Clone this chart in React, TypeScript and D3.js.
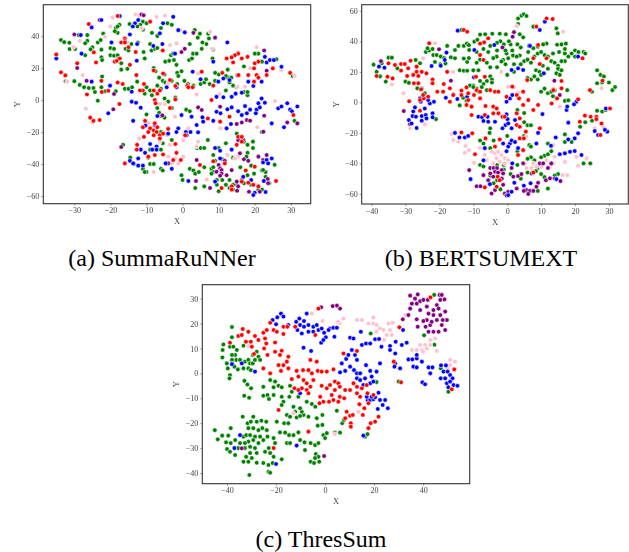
import React, { useRef, useEffect } from 'react';
import * as d3 from 'd3';

type Pt = [number, number];

const WIDTH = 629;
const HEIGHT = 552;

// SummaRuNNer
const summaGreen: Pt[] = [
  [-33.7,37.5],[-32.8,36.2],[-31.4,35.8],[-31.3,31.9],[-29.8,31.9],[-28.8,40.6],[-26.4,40.6],[-26.4,37],[-25,33],[-27,35.5],[-25.5,31.7],[-27,28],[-23.5,36],[-22.7,37.5],[-22,41.5],[-22.5,31.5],[-22.5,26.7],[-22.3,25],[-20,32.5],[-19,32],[-20,28],[-19,27.7],[-18,28],[-17.8,25.8],[-17,23],[-17,19],[-15.3,19.5],[-14.2,35],[-15.8,32],[-15,31],[-12.4,36],[-9,35],[-8.5,42],[-7,40],[-10.8,30],[-10.5,26],[-8.6,31],[-7.7,32],[-7,32.5],[-4.8,24],[-3.7,24.5],[-2.4,25],[-3.2,28],[-2.6,29],[-1.7,22],[-0.3,18],[-1.5,17],[1.8,25],[2.6,26],[2,35],[2.9,29],[3.9,29],[5.3,32],[6.6,35],[5.5,36],[4.2,39],[3.4,43.8],[4.8,41.5],[7.1,41.5],[7.3,38.5],[8.3,26],[8.4,31.5],
  [-32.4,11.7],[-30,11.8],[-28.5,9.5],[-27.3,8],[-26,7.5],[-24.7,7.5],[-24.3,5],[-22.3,14.7],[-22.5,8],[-21.5,5.5],[-23.5,-0.4],[-18.5,5.5],[-16,7],[-15,7],[-14,8],[-12.6,11.5],[-17.5,47],[-14.7,47.5],[-18.5,45],[-18,42],[-11,49],[-10,48],[-11.7,47],[-6,45],[-4.2,48],[-3,47],[-8,20],[-7.5,18],[-5,16],[-6.5,14],[-5.5,12],[-4.8,11],[-7,9],[-10,8],[-9,6],[-10.5,4],[-8.5,3],[-6,7],[-3,12],[-1.5,10],[-1.2,15],[0.5,12],[1.5,10],[3,9],[5,10],[6,11],[6.5,13],[7.5,10],[9,12],[10,16],[9,17],[12.5,19],[13,11],[12.5,14],[13.5,14],[12,6],[14,9],[15,8],[17,5],[18,3],[-5,1],[-4,-1],[-3,-5],[-2,1.5],[-7,-5],[-6.5,-8],[-10,-9],[-6,-10],[-5,-11],[1,-6],[2,-7],
  [-16.5,-28],[-14.5,-36],[-13.5,-40],[-11,-43],[-10,-45],[-9,-40],[-8,-40],[-10.5,-45],[-6,-43],[-5.5,-44],[-9.5,-36],[-9,-31],[-5.5,-27],[-6,-31],[-3,-25],[-6,-20],[-0.3,-47],[2,-43],[3,-44],[3.5,-46],[4.5,-45],[6,-42],[8,-43],[6,-54],[8.5,-42],[9,-38],[8.5,-45],[9.5,-50],[9.5,-53],[10,-57],[11,-50],[12,-53],[13,-55],[14,-56],[12,-27],[14,-36],[15,-21],[17,-26],[18,-28],[19.5,-26],[19.5,-30],[18,-33],[19,-41],[22,-44],[23,-45],[25.5,-40.5],[23,-48],[24,-52],[19,-53],[4,-30],[5,-30],[6,-30],[7,-25],[10,-30],[15,-53],[3.5,-55],[17,-52],[22,-56],[21,-56],[26,25.5],[25,25],[21,29],[20,29],[22,24],[17,21],[12,15],[31,-13],[22,-20],[30.5,15],[18,5],
  [8.5,-34.4],[8,-46],[13,-50],[14,-53],[17.7,-35.4],[19.8,-46],[22.3,-43.7],[-18.8,43],[-18,46],[-12.5,46],[-11,44],[0,-50],[11,-37],[16,-42],[18,-47]
];
const summaRed: Pt[] = [
  [-35,28.5],[-33.7,17.3],[-32.5,15.4],[-29.2,23],[-26.5,3.5],[-25.6,-11],[-24.7,-13],[-23,-12.5],[-24,23.5],[-24.6,29.8],[-26,47.5],[-22.5,12],[-22.4,5],[-20.6,5.8],[-18,11],[-16.6,10],[-17.5,-2.5],[-18.8,24],[-18.2,24.5],[-17.4,26],[-16,38.5],[-16,37],[-17,36],[-14.6,22],[-18,52.5],[-10.7,10],[-11,6],[-11.8,6],[-12.8,15.6],[-9,49],[-5.5,31],[-8,18.5],[-5.4,16.6],[-3.5,12.5],[-2,8.8],[-7,4],[-8,6],[-6.3,6],[-7.7,0],[-7.5,-2],[-3.5,-5],[-2,0.4],[-10.4,-13],[-11,-17],[-7.7,-14.5],[-9,-17.7],[-8,-19],[-7.2,-20],[-6.3,-22],[-5.4,-21],[-8,-22],[-6.3,-24],[-10.7,-23],[-12.6,-28],[-12.7,-31],[-16,-39.6],[-9.5,-35.4],[-7.7,-34.4],[-5.4,-34],[-2,-27.5],[-1.7,-33],[-2.6,-37.5],[-0.5,-37.5],[0.7,-22],[7,-11.5],[10.4,-13.5],[13,-10.4],[8,0],[8.5,9],[11,17],[1.3,9],[1.6,8],[2.8,8],[5.3,17.7],[20.5,15.6],[19.8,19.8],[20,23],[21,24],[18,27],[16.4,26],[15.4,29],[14.5,28],[13.6,26.7],[12.2,26],[14,23.5],[15.5,15.6],[18.2,15.6],[19.8,11.5],[21,14],[23.3,15.6],[25,19.8],[29.8,17],[30.7,-9.4],[25.9,-50.6],[21,-54],[19.6,-53],[20,-41.7],[17.5,-44],[16.4,-26],[15.4,-23],[16.4,-23],[15,-28],[8.5,-38.3],[4.8,-40.6],[10.8,-55],[13.6,-54],[13.6,-56],[16.4,-51],[18.2,-51.7],[11.7,-39.6],
  [-7,-17],[-9.5,-20],[-4,-18],[-16,36],[-15,33],[-13,30]
];
const summaBlue: Pt[] = [
  [-35,26],[-28,29],[-28.2,40.6],[-25.2,45.4],[-25.2,11.5],[-20.1,9],[-20.6,-8.3],[-19.7,36],[-22.5,50],[-17.4,52.5],[-14.6,41],[-12.6,35],[-12.7,24.6],[-14.1,5.2],[-14.1,-1],[-12.9,-1.7],[-13.7,-13],[-11.6,-4.8],[-10.3,-16],[-7.7,-15.5],[-5.4,48],[-2.6,52],[-6.3,41.7],[-5.6,35],[-8.1,33.8],[-2.1,29],[-4.4,8],[-1.7,8],[-0.3,-9.4],[2.5,-10.4],[0.9,-20],[2.2,-20],[1.1,-22],[-1.2,-17.7],[-1.7,-20],[-4,-21],[-7.2,-29],[-9,-27.5],[-8.4,-31],[-7.2,-31],[-12.3,-36.5],[-11.6,-31],[-14.6,-38],[-13.7,-39.6],[-12.3,-41],[-11,-41],[-4.7,-39.6],[-3,-43],[1.6,-50.6],[2.8,17.7],[5,13],[8.5,24],[12.4,36],[13,12.5],[11.3,13.5],[9.9,11.5],[9.4,2],[11.3,1.7],[13.6,2],[14.7,4],[16.4,4.6],[18.2,11.5],[21.9,11.5],[19.6,8.8],[9.4,-7.3],[10.5,-8.3],[12.4,-5.8],[13.6,-4.6],[15.4,-7],[17.3,-3.8],[18.7,-6],[20.5,-6],[20.3,-8.3],[21,-2],[21.9,1],[22.8,-1.7],[21.4,-4.6],[8.5,-13],[12.2,-17.7],[13.4,-15],[16.4,-9.4],[17.8,-8.3],[26.5,-5.2],[27.4,-4],[29,-2],[29.8,-6],[30.3,-7],[31.8,-4],[28.1,-17],[24.7,-14.6],[27.4,20.8],[22.8,27],[23.3,23.5],[24.2,25],[25.3,25],[9,-30],[10.4,-31.7],[10.4,-36.5],[13.6,-31],[9,-51],[16.8,-48],[19,-50],[20,-58],[19.6,-59.4],[23,-57.5],[22.3,-39],[23.3,-37.5],[24.7,-36.5],[23.7,-39.6],[22.5,-50.6],[5.7,-13.5],[5.5,-10.8],[3.9,-15.6],[4.3,-20.2],[-1.2,43.7],[0.6,42.3],
  [-13.2,48],[-12.3,50],[-13.8,46],[-7,-10],[-10.4,-33]
];
const summaPurple: Pt[] = [
  [-29.2,20],[-26.6,12],[-23,50],[-30,41],[-19,3.8],[-19.2,-5.8],[-17,-29.4],[-11.4,53.5],[-10.8,53],[3,42],[9,39],[22.6,31],[23.3,18.3],[15.2,15.4],[4.3,-4.6],[5.3,-6.2],[10.4,-4.2],[-5.6,-9.6],[-0.3,30],[0.6,32],[10,-40.6],[10.4,-42.7],[10.8,-43.8],[9.4,-44.8],[10.8,-46],[10.4,-47.3],[12.2,-47],[13.6,-43.8],[11.7,-38],[15.9,-33.3],[17,-37],[18.2,-38],[21,-35.4],[23.3,-34.4],[22.3,-37.5],[16.4,-50],[15,-51],[15.4,-54],[15.1,-56.7],[18.4,-57.3],[21.4,-57.3],[23.6,-49.4],[23.7,-52],[15.4,-25],[16.8,-25],[3.9,-37.5],[3.7,-50.6],[7.6,-55],[31.8,-14.6],[29,-14],[22.4,-19.8],[22.6,-9.8],[15,-15],[16.4,-14],[17.8,-12.5],[18.7,-12.9],[-4,-39.6]
];
const summaPink: Pt[] = [
  [-35,29],[-30.3,33],[-28.5,37],[-27.7,15.6],[-26.8,-5.4],[-25,-13.8],[-32,11.5],[-21.5,39.5],[-20,46],[-19.4,51.7],[-13,53.5],[-12,52.7],[-11.4,44.8],[-15.3,36],[-7.2,52],[-4.9,52.7],[-3.5,34.4],[-1.7,35.4],[-4,10.4],[-0.7,43.7],[3.9,3.5],[4.3,16.7],[7.6,42.7],[8.2,32],[20.5,33],[15.4,30],[18.7,19.8],[27.4,18.7],[31.1,15.2],[25.6,-0.6],[17.3,8.3],[15.2,8.3],[10.2,3.7],[20.7,-17],[4.3,-26],[3.9,-29],[-3.5,-28],[-8,-45],[-9.5,-14.5],[-8,-16.5],[-12,-24],[-4.4,-22],[-6.3,-26],[0.2,-25],[-2.1,-36.5],[-1.2,-39.6],[-3,-39.6],[0.2,-35.4],[-4,-35.4],[6.7,-49.6],[12.4,-34.4],[15.4,-35.4],[14.5,-36.5],[10.5,-17.7],[1.6,-17.7],[-4.9,-2.5],[-6.3,-2.5],[-2.1,-10.4]
];

// BERTSUMEXT
const bertGreen: Pt[] = [
  [-39.4,24.7],[-38.5,20],[-37,25.6],[-35,29.3],[-34,29.3],[-37.5,17],[-35.8,13.6],[-32.4,22.3],[-30,13.6],[-29,12.8],[-27,27.8],[-25.7,25.6],[-26.5,9.2],[-25.2,9],[-24.3,5.9],[-24,33],[-23,34],[-23.5,35.5],[-21.8,31],[-20.8,31],[-19.6,30],[-18.6,29],[-21.3,26.5],[-19.7,25],[-18.2,25.5],[-22,35],[-17.7,37],[-16.6,29.5],[-15.4,28.9],[-15.4,34.3],[-14.4,37],[-12.8,37],[-11.9,38.5],[-11.3,37.5],[-11.2,34.3],[-12.8,28.7],[-11.8,26.5],[-11.3,29],[-14,21],[-12.8,20.7],[-11.8,20.7],[-10,21],[-8.5,21],[-13.5,47.4],[-9.7,39.8],[-8.8,41],[-8,44.4],[-6.5,44.6],[-4.4,45],[-2.2,45],[-0.4,44.6],[3.7,44.6],[4.7,42.6],[3.2,55],[4.2,56.8],[4.9,57.7],[5.7,56.6],[3.2,51.4],[7.7,49.6],[14.5,48.5],[14.9,45.2],[14.7,37.8],[16,38],[17.3,38.5],[17,35],[15.3,33],[13.5,32],[11.6,38.5],[10.6,38],[9,36.5],[7.7,35.5],[6.4,37],[6.2,33],[3.7,30.7],[1.7,30.7],[-0.2,32],[0.3,28.9],[2.8,30],[-1.2,27.8],[-1.7,26.8],[-3.1,30],[-4.1,29],[-5.6,33],
  [-2,40],[-3,39],[-1,38],[1,38],[0.5,40],[3,38],[4,36],[1.5,34],[-0.5,34],[-3,34],[-5,37],[-7,35],[-9,33],[-8,28],[-9,26],[-6,26],[-5,23],[-3,23],[-0.5,25],[2,25],[4,25],[5,27],[6,28],[7,26],[8,30],[9,32],[10,33],[11,31],[12,30],[13,27],[14,26],[15,24],[10.5,24],[12,22],[8.5,21],[9.5,20],[10,18],[8,17],[9,15],[15,22],[16,21],[14.5,19],[15.5,18],[17,27],[18,30],[19,32],[20,34],[21,33],[22.5,33],[23,32],[20,30],[17,32],[16,27],[11,9],[10,7],[12,6],[13,7],[14,8],[13.5,4],[17,1],[17.7,8],[18,1.3],[7,15],[6,16],[2,20],[0,18],
  [-5,17],[-6,14],[-4.5,15],[-8,14],[-7,12],[-7.5,10],[-6,8],[-4.5,13],[-10,11],[-9,9],[-8.5,7],[-11,11],[-10,10],[-13,3],[-14,-2],[-12,1],[3,-5],[5,-7],[5,-13],[6,-15],[7,-15],[-5,-17],[-5.2,-20],[-4,-25],[-5,-30],[0,-22],[6.5,-28],[12,-27],[13,-29],[17,-21],[18,-24],[19,-26],[17,-26],[11,-35],[10,-36],[12,-34],[13,-32],[8,-38],[7,-36],[6,-37],[9,-43],[10,-47],[8.5,-45],[15,-47],[14,-48],[9,-58],[12,-56.5],[-5,-48],[-3,-51],[-4,-53],[22.5,-40],[24.5,-40],[-1,-44],[-3,-41],[3,-32],[5,-22],[7,-29],[26.5,21],[27.5,18],[28.5,17],[26.5,12.5],[28,13],[30,13],[31.8,10],[31,8],[25,7],[26.5,-5.5],[28,-6],[29,-5],[25,-12],[23,-13],[21.5,-16],[-21,-11],
  [-8,-41],[-7,-42],[-2,-57],[-1,-41],[1,-47],[4,-50],[6,-46],[11,-49],[3,-41],[-8,-25],[-7,-27]
];
const bertRed: Pt[] = [
  [-38.5,17.3],[-35,25.6],[-35.3,16.8],[-33.8,15.7],[-33.1,24.5],[-31.3,25.1],[-30.2,25.1],[-31.3,20.8],[-29.2,22.3],[-28.5,27.3],[-29.5,17.3],[-26.7,23.4],[-26.7,20],[-25.2,20],[-27.7,18],[-26.2,17.3],[-23.8,19],[-27.5,12.5],[-26.2,12.5],[-25.4,8.5],[-28.9,0.7],[-25.7,1.5],[-24.6,2.6],[-24.8,4.8],[-23.3,3.7],[-23,38.7],[-25.7,-5.5],[-22,15],[-22,12.5],[-20.6,7],[-18.9,7],[-18.7,12],[-17.7,20],[-16.9,9.2],[-15.9,4.8],[-16.9,0.4],[-13.5,7.7],[-13.5,4.8],[-12,9.8],[-11.5,5.9],[-12.8,47.4],[-11.8,46.3],[-9.8,4.8],[-9,8],[-8,7],[-8,2.6],[-11.5,1.5],[-10.5,-2.8],[-12,-1.7],[-10.5,-8.3],[-8,31],[-7,27.8],[-6.8,39.3],[-8,38.5],[-5.6,42],[-9.2,16.8],[-6.6,16.8],[-5,8],[-3.6,7],[-2.6,7],[-4.1,-2.8],[-6.4,-2.4],[-6.6,-8.3],[-3.1,-4],[-4.1,-7.2],[-2.6,-7.2],[-1.4,-9.4],[-0.7,-9.4],[-0.2,3.7],[1.5,10.3],[2.8,4.8],[3.5,2.6],[4.7,7],[5.9,14.6],[6.2,1.5],[4.7,-1.7],[2.8,-7.2],[3.7,-10.5],[2.8,-14.9],[3.7,-16],[5.5,-19.2],[9.6,-17],[9.1,37.6],[7.7,28.9],[9.6,25.1],[11.6,28.9],[11.6,55],[13.4,54.6],[8.6,49.6],[16,14],[16,9.2],[13.6,8],[14.7,2.6],[13.1,-0.7],[9.1,-1.7],[7.7,-5],[22.2,28.9],[20.9,2],[21.4,-12.7],[22.9,-8.7],[24.6,-9.4],[26.3,-9.4],[26.3,-11],[30.3,-4],[24.4,8],[28.1,14.2],[27.8,-13.8],[27.5,-21.4],[-13.5,-19.7],[-10.3,-20.3],[-9.5,-34],[-6.4,-23.6],[-2.2,-24.3],[-3.6,-29],[3.7,-23.6],[4.9,-23.6],[3.2,-34.5],[4.7,-31.3],[-2.8,-48.7],[-2.2,-51],[-6.6,-55.7],[-3.1,-55.3],[7.7,-46]
];
const bertBlue: Pt[] = [
  [-37.8,23.4],[-36.2,22.7],[-14.6,47],[-22.3,23.8],[-17.9,32.6],[-18.4,27.8],[-19.6,24],[-27.7,-6],[-27.2,-3.3],[-25.5,0.4],[-25.7,2.6],[-27.9,-9],[-26.9,-9.4],[-29,-11.6],[-28.2,-13.8],[-25.2,-9],[-24,-8.3],[-24.3,-4],[-22.8,-0.7],[-21.6,0.4],[-23.3,1.5],[-22,-7.2],[-22,-9.8],[-23.8,-10.5],[-25.2,-12],[-26.7,-16.8],[-18.1,3],[-15.9,5.2],[-14.7,2.2],[-11.8,3.7],[-9.8,16.4],[-9.7,34.3],[-3.8,37.6],[6.7,37],[-8.5,-9.4],[-7.4,-9.8],[-7,-12.2],[-5.6,-12.7],[-3.6,-12.7],[-5.8,-9.4],[-1.4,-17],[-0.5,-14.9],[0.1,-11],[0.3,-13.8],[1.3,-17],[2.3,-11.6],[-0.2,-7.9],[10.4,-7.7],[-0.2,0.4],[0.8,2.6],[1.5,4.8],[3.2,22.3],[4.7,21.2],[1.3,21.2],[18,-13.3],[17.5,-5],[17.7,-2.8],[20.4,0.4],[19.7,-1.3],[11.1,52.9],[9.6,47.4],[10.8,19],[20.9,30],[-15.4,-20],[-14.1,-23],[-12.5,-23],[-11.5,-22],[-10.8,-50.3],[-6.6,-30],[-1.2,-27],[0.8,-27],[1.3,-25],[2.3,-26],[0.3,-29],[3.2,-30],[-0.2,-32],[-7,-38],[1.5,-40],[9.1,-20],[8.6,-27],[12.9,-28.4],[14.3,-23],[15.5,-34],[17,-33.4],[18.5,-32.4],[19.9,-31.9],[21.9,-34.5],[18,-24.3],[19.9,-23.6],[20.9,-20.3],[25.8,-18.8],[26.8,-21.4],[29.5,-19.2],[28.8,-18],[29.1,-4],[14.5,-50.3],[6.9,-53],[4.9,-54.6],[2.1,-52.7],[0.3,-60.8],[-5.1,-53.6],[1.3,-58.6]
];
const bertPurple: Pt[] = [
  [-37.2,27],[-30.5,-5.7],[-28.7,-14.2],[-20.1,34.8],[-16.6,14.2],[-1.4,36],[2,46],[1.6,43],[13.9,14.2],[15.5,4.8],[-11.2,-44.4],[-7,-47.7],[-9,-55],[-7.9,-55],[-5,-43],[-4,-43],[-3,-43],[-1.6,-44.4],[-1.2,-46.6],[-5,-46.6],[-3.6,-45.5],[-2.7,-46],[-5.6,-51],[-4.1,-48.7],[-1.6,-50],[-1.2,-54],[-4.6,-59.7],[-3.6,-57.5],[-0.7,-59.7],[0.3,-58.6],[-0.2,-61],[3.2,-48.3],[4.2,-47],[4.7,-40],[5.7,-57.5],[6.7,-58],[7.7,-58],[4.9,-58],[6.2,-60],[9.1,-52.7],[8.6,-55.3],[11.4,-51],[12.6,-49.8],[14,-49.8],[15.7,-51.6],[13,-40],[12,-43],[9.6,-40],[10.6,-40],[1.8,-48.7],[1.3,-43],[7.2,-46.6],[2.8,-56.4]
];
const bertPink: Pt[] = [
  [-34,11.8],[-30.6,5.9],[-28.7,-17],[-24.3,-14.4],[-21.3,38.7],[-24.8,28.9],[-15.9,20],[-16.4,-20.8],[-15.9,-24.7],[-14.4,-25.8],[-12.3,-28.6],[-12.5,-33],[-11.3,-31.3],[-9.8,-39.6],[-8,-30],[-6.6,-34.5],[-6,-37.8],[-4.6,-32.4],[-3.6,-33.4],[-2.7,-32.4],[-1.7,-34.5],[-3.1,-36.7],[-2.2,-39],[-0.7,-36.7],[-4.1,-40],[-0.7,-40],[0.3,-37.8],[7.7,-40],[8.6,-42],[7.2,-43],[5.2,-40],[5.7,-43],[10.1,-42],[11.6,-37.8],[12.6,-42],[13.6,-40],[17,-39],[17.7,-47.7],[16.3,-47.7],[20.4,-35.6],[20.9,-41.5],[23.4,-36.7],[25.8,-17],[28.3,-16],[27.8,9.2],[0.3,10.3],[2,9.8],[3.2,6.3],[13.6,9.2],[15.5,-2.8],[5.7,-22.5],[2.8,50],[16.5,46.3],[-1.7,20],[13.6,-28],[14,-35.6]
];

// ThresSum
const thresGreen: Pt[] = [
  [-45,-22.8],[-43.8,-26.5],[-42,-25],[-39.5,-25],[-40.4,-27.7],[-38.5,-22],[-40,-30.4],[-38.5,-28],[-36.7,-26.8],[-36.7,-32.8],[-38.8,-31.5],[-35.4,-30],[-34.7,-28],[-33.3,-25.4],[-33.6,-17.4],[-31.6,-20],[-30.3,-19.4],[-29.3,-17.4],[-27.9,-19.4],[-26,-19],[-24,-19.4],[-25.6,-22],[-27.2,-22.8],[-29.3,-22],[-31.3,-22],[-32.2,-24.8],[-30.6,-24.8],[-28.6,-25.4],[-26.5,-25.4],[-23.8,-22.8],[-23.5,-25.4],[-25.2,-26.8],[-27.2,-28],[-29.3,-26.8],[-31.3,-27.4],[-32.7,-28],[-32.7,-30],[-30.6,-29.5],[-28.6,-30],[-27.9,-32],[-30.6,-32],[-32.2,-33.5],[-31.3,-35.5],[-33.3,-35.5],[-29.9,-34],[-27.9,-35.9],[-25.2,-36],[-23.1,-36.8],[-23.1,-39.5],[-22.4,-39.9],[-21.4,-36],[-21,-33.5],[-22.4,-32],[-24.5,-31.5],[-23,-30],[-20.4,-28],[-21,-26],[-30.9,-40.8],[-17.7,-34.5],
  [-19.7,-19.4],[-18.4,-23.7],[-16.3,-23.8],[-16.7,-20],[-15,-20],[-15.6,-16.7],[-14.3,-17.4],[-12.2,-15.4],[-11.6,-17.7],[-8.8,-16.7],[-9.5,-15.4],[-10.2,-17.1],[-6.8,-17.4],[-3.4,-18],[-1.1,-16.7],[-3,-21],[-1.1,-20.7],[-14.7,-24.8],[-15.6,-28],[-14.3,-28],[-12.9,-24.8],[-10.9,-23.7],[-10.2,-26.8],[-8.4,-27.7],[-5.9,-28],[-8.2,-30.8],[-4.1,-28.8],[-2.7,-28],[-3.8,-32.4],[-2.7,-33.5],[-4.1,-34],[-5.9,-35.5],[-4.5,-36],[-2.4,-35.5],[-0.7,-24.8],[0,-26],[0.7,-24],[4,-23.8],[6.1,-23.8],[4.8,-15],[7,-20],[7.7,-18.7],[16.3,-25.4],[17.3,-24.4],
  [-10.2,-14],[-12.9,-13.4],[-7.5,-11.4],[-5.4,-12.3],[-4,-13.4],[-25.2,-5.4],[-25.2,-9],[-23.5,-8.7],[-22.9,-10.3],[-21,-8.7],[-21,-5.6],[-19,-5],[-20.4,-3.3],[-17.7,-5.6],[-14.3,-5],[-13.6,-7.4],[-14.6,-9.4],[-10.9,-9.4],[-17.7,-9.4],[-17,-11.4],[-17.7,-12.7],[-32.9,-3],[-31.7,-4.5],[-30.2,-6],[-33,-9],[-31,-9.8],[-22.4,-2.7],
  [-41.5,11.6],[-41.8,9.4],[-41.9,6.4],[-40.1,4],[-39.7,2],[-38.8,-0.7],[-39,-2],[-38,14.5],[-38,18.6],[-38.8,10.7],[-37.4,10.7],[-36,9.4],[-36.7,7.4],[-38,7.4],[-36.3,5.4],[-38,5.4],[-38,4],[-37,2.7],[-35.6,1.6],[-34.7,5.4],[-33.3,2],[-32.7,4.7],[-31.3,5.4],[-30.6,4],[-31.3,2],[-30.3,1.3],[-29.5,4],[-28.6,5.4],[-27.2,6.7],[-27.9,8.7],[-29.5,7.4],[-26.5,5.4],[-33.3,11.1],
  [18.6,16],[30,-3.3],[40.4,15.3],[44.5,31.5],[47.2,2],[50.3,-7.4],[21,-3.5],[44.6,11.5]
];
const thresRed: Pt[] = [
  [-38.8,12.3],[-35.4,15],[-33.6,17.8],[-32.3,12.7],[-34,15.4],[-31.3,16.7],[-30.3,12.7],[-28.6,15],[-29.9,10.7],[-29,7.8],[-27.2,13.4],[-25.2,16.3],[-23.8,17.4],[-22.4,20.3],[-21,17.4],[-19.7,16.7],[-17,15.8],[-17,18.7],[-15.4,18.7],[-20.4,12.4],[-24.5,14],[-24,12],[-24.9,10],[-23.5,7.4],[-25.2,2],[-22.4,0],[-20.4,8.7],[-17.7,9.1],[-18.4,7.4],[-15,6.7],[-15.6,4.7],[-17,3.3],[-19,3.3],[-15,2],[-18,1],[-13.6,-2.3],[-11.6,1],[-12.5,-6],[-10.9,-1.3],[-9,1.3],[-6,5.4],[-6.8,1.3],[-5.4,0],[-3.4,4.7],[-3,1],[-1.4,0.7],[0.7,0.7],[3.4,1.6],[-8.8,-2.7],[-7.5,-4],[-6,-5.4],[-9.5,-6],[-10.9,-6.7],[-7.5,-6.7],[-6.8,-8],[-4.8,-2.7],[-1.4,-5],[0.7,-6],[2,-4.7],[4,-3.3],[5.4,-4],[6,-5.4],[8.2,-6.7],[4,-6.7],[2.7,-8.7],[3.4,-10.7],[6,-9.4],[5.4,-11.4],[7.8,-10],[1.6,-11.4],[-0.7,-11.4],[-2,-9.4],[-2.3,-12],[-19,-14.7],[11.6,-4],[13,-5.4],[10.2,-6.7],[13,-8],[15,-6],[17,-4.7],[17.3,-8],[14.3,-9.4],[14,-12.4],[16,-14],[17.7,-12],[19.7,-8.7],[8.8,-15.4],[10.2,-17],[11.3,-16.7],[8.2,-18],[10.5,-20],[10.5,-21.4],[15.4,-16.7],[17.7,-22],[18.6,-20],[20.4,-19.4],[21.8,-17.4],[-6.8,-23.4],[-21,-30],[7.5,8],[13,9],[-2.7,26],[30.3,18.5],[28,4.7],[43,30.5],[51.7,-6.4],[52.7,1.6],[-12.2,18.7],[-4,15.4],[31,-3.6]
];
const thresBlue: Pt[] = [
  [-21.4,21.4],[-19.5,22.5],[-18,24],[-17,22.8],[-20,19.7],[-15,19.4],[-11.8,20.7],[-10.5,22],[-7.5,24],[-8.6,21],[-10.2,19.4],[-11.3,17.4],[-9.5,16],[-8.6,18.7],[-6.8,19.4],[-6.8,16.7],[-4.8,18.7],[-4.8,16.7],[-3.4,19.4],[-2.7,17.4],[-1.4,18],[-0.4,16.3],[2,18],[3.4,18.3],[4.8,18.3],[1.4,17.4],[0.3,14.5],[-1.6,12.3],[-0.7,13.4],[3.8,14.7],[-8.8,10.3],[-5.7,9],[-38,3.7],[-34,4],[-28.6,0.7],[-34.7,-24.8],[-37,-30],[-11.6,-29],[-20,-36.4],[15.6,-25],[-10.2,-8],
  [10.2,14.3],[11.6,14],[14.6,16.7],[15,11.4],[16.7,12],[18.4,12],[20.4,13.7],[22,13.8],[23,10.7],[26.5,11],[26.5,9.4],[28.8,12.7],[28.6,8],[31.3,11.4],[33.3,12.3],[31.8,17.4],[28.6,4],[28.3,2.7],[30.6,2],[34,5.6],[35.6,5.6],[37.4,6],[37.4,7.4],[36,2.7],[37.4,2.4],[39.5,4.7],[42.2,2.4],[43.8,2.4],[42.9,0],[39.7,-3.6],[40.8,-4.4],[47.3,3.2],[49.3,3.2],[48.3,0.7],[50,0.7],[47.2,-2],[49,-2],[51,-0.7],[52,-2],[49.7,-4],[51,-3.3],[52.4,-4.7],[54,-5],[50.3,-5.6],[6.8,4],[8.6,5.8],[9.5,7.4],[10.9,9.4],[12.2,7.4],[13,5.4],[10.2,2.7],[8.2,1],[6.1,0.4],[11.8,1.3],[13,0],[14.3,0],[16.7,3.3],[18.4,1],[21,0.7],[19,-1.3],[22.4,4],[13,-2],[14.3,-2.7],[16.3,-2],[15.6,-4.7],[18.4,-4],[19.7,-3.3],[17.3,-10.7],[18.4,-10.7],[19.7,-10.4],[21.8,-7.8],[20.4,-9.6],[22.4,-10.7],[24.5,-10.7],[23.5,-12.7],[21.5,-14.3],[25.6,-14],[19,-9.4],[17,-9.4]
];
const thresPurple: Pt[] = [
  [34.7,31.2],[37.8,31.7],[36.7,30],[35.4,28],[34.7,26],[37.4,28],[38.8,29],[40.1,29.5],[41.9,29.5],[41.5,26.8],[42.2,24],[44.2,25.4],[45.6,27.4],[46.7,31.5],[47.6,31.5],[48.7,29.7],[47,29.5],[46.3,26],[49,24.8],[47,23.4],[44.2,23.4],[41.5,21.4],[40.1,21],[41,18.7],[42.9,19.4],[44.2,16.7],[46.3,16.7],[49,17.4],[49.7,21.4],[48,21.4],[47.6,19.4],[37.8,18.7],[34,23.4],[31.7,21.7],[37.4,21.7],[38.8,25.4],[42.2,16.7],[43.5,20.7],[45.6,21.4],[6.1,26],[4.8,27.2],[3.1,27],[-1.6,26.5],[-0.4,-33.2],[-34,-30.1]
];
const thresPink: Pt[] = [
  [-5.4,24],[-1,21],[7.5,22],[6,20],[5.3,20.7],[13,21.4],[15,21.4],[19.7,22.4],[17.7,20],[19.7,20],[21,19.4],[22.4,18],[25.9,20],[27.6,20.3],[21,16.7],[24,13.4],[25.2,15.4],[27.2,15.4],[26.5,17.4],[23.8,17.4],[32.7,23.4],[35.4,9.4],[37.4,9.4],[38.8,11.4],[40.8,11.4],[39.5,9.4],[41.5,10],[42.9,11.4],[45.6,9],[40,8.7],[42.9,13.4],[44.9,14],[51,5.4],[53,4.7],[51,3.3],[50,2],[13.6,-15.4],[-31.3,11],[-13,-16],[4,-24.4]
];

const COLORS = { pink: '#ffc0cb', purple: '#800080', blue: '#0000ff', red: '#ff0000', green: '#008000' };

const panels = [
  {
    caption: '(a) SummaRuNNer', captionX: 162, captionY: 266,
    box: [43.3, 310.7, 4.7, 203.7], xDomain: [-38.6, 35.5], yDomain: [-64.8, 59.6],
    xTicks: [-30, -20, -10, 0, 10, 20, 30], yTicks: [-60, -40, -20, 0, 20, 40],
    series: [[summaGreen, COLORS.green], [summaPink, COLORS.pink], [summaPurple, COLORS.purple], [summaBlue, COLORS.blue], [summaRed, COLORS.red]],
  },
  {
    caption: '(b) BERTSUMEXT', captionX: 481, captionY: 266,
    box: [361.7, 628.3, 4.7, 204], xDomain: [-42.9, 35.7], yDomain: [-66.6, 64],
    xTicks: [-40, -30, -20, -10, 0, 10, 20, 30], yTicks: [-60, -40, -20, 0, 20, 40, 60],
    series: [[bertGreen, COLORS.green], [bertPink, COLORS.pink], [bertPurple, COLORS.purple], [bertBlue, COLORS.blue], [bertRed, COLORS.red]],
  },
  {
    caption: '(c) ThresSum', captionX: 321, captionY: 547,
    box: [202.3, 469.7, 284.7, 483.7], xDomain: [-50.1, 59], yDomain: [-44.3, 35.6],
    xTicks: [-40, -20, 0, 20, 40], yTicks: [-40, -30, -20, -10, 0, 10, 20, 30],
    series: [[thresGreen, COLORS.green], [thresPink, COLORS.pink], [thresPurple, COLORS.purple], [thresBlue, COLORS.blue], [thresRed, COLORS.red]],
  },
];

function App() {
  const svgRef = useRef<SVGSVGElement>(null);

  useEffect(() => {
    const svg = d3.select(svgRef.current);
    svg.selectAll('*').remove();

    panels.forEach((p) => {
      const [left, right, top, bottom] = p.box;
      const x = d3.scaleLinear().domain(p.xDomain).range([left, right]);
      const y = d3.scaleLinear().domain(p.yDomain).range([bottom, top]);
      // the source picture is a slightly soft raster
      const g = svg.append('g').style('filter', 'blur(0.35px)');

      // Points
      p.series.forEach(([points, color]: any) => {
        g.append('g')
          .selectAll('circle')
          .data(points as Pt[])
          .enter()
          .append('circle')
          .attr('cx', (d) => x(d[0]))
          .attr('cy', (d) => y(d[1]))
          .attr('r', 2.3)
          .attr('fill', color)
          .attr('stroke', 'white')
          .attr('stroke-width', 0.6);
      });

      // Frame
      g.append('rect')
        .attr('x', left).attr('y', top)
        .attr('width', right - left).attr('height', bottom - top)
        .attr('fill', 'none').attr('stroke', '#333').attr('stroke-width', 1.1);

      // Axes
      const xAxis = g.append('g')
        .attr('transform', `translate(0,${bottom})`)
        .call(d3.axisBottom(x).tickValues(p.xTicks).tickSize(2).tickPadding(2));
      const yAxis = g.append('g')
        .attr('transform', `translate(${left},0)`)
        .call(d3.axisLeft(y).tickValues(p.yTicks).tickSize(2).tickPadding(2));
      [xAxis, yAxis].forEach((a) => {
        a.select('.domain').remove();
        a.selectAll('line').attr('stroke', '#555').attr('stroke-width', 0.6);
        a.selectAll('text')
          .attr('fill', '#444')
          .style('font-family', '"Liberation Serif"')
          .style('font-size', '8px');
      });

      // Axis labels
      g.append('text')
        .attr('x', (left + right) / 2).attr('y', bottom + 20.5)
        .attr('text-anchor', 'middle').attr('fill', '#444')
        .style('font-family', '"Liberation Serif"').style('font-size', '8.5px')
        .text('X');
      g.append('text')
        .attr('transform', `translate(${left - 23},${(top + bottom) / 2}) rotate(-90)`)
        .attr('text-anchor', 'middle').attr('fill', '#444')
        .style('font-family', '"Liberation Serif"').style('font-size', '8.5px')
        .text('Y');

      // Caption
      svg.append('text')
        .attr('x', p.captionX).attr('y', p.captionY)
        .attr('text-anchor', 'middle').attr('fill', '#000')
        .style('font-family', '"Liberation Serif"').style('font-size', '24px')
        .text(p.caption);
    });
  }, []);

  return (
    <svg
      ref={svgRef}
      width={WIDTH}
      height={HEIGHT}
      style={{ position: 'absolute', left: 0, top: 0, background: 'white' }}
    />
  );
}

export default App;
